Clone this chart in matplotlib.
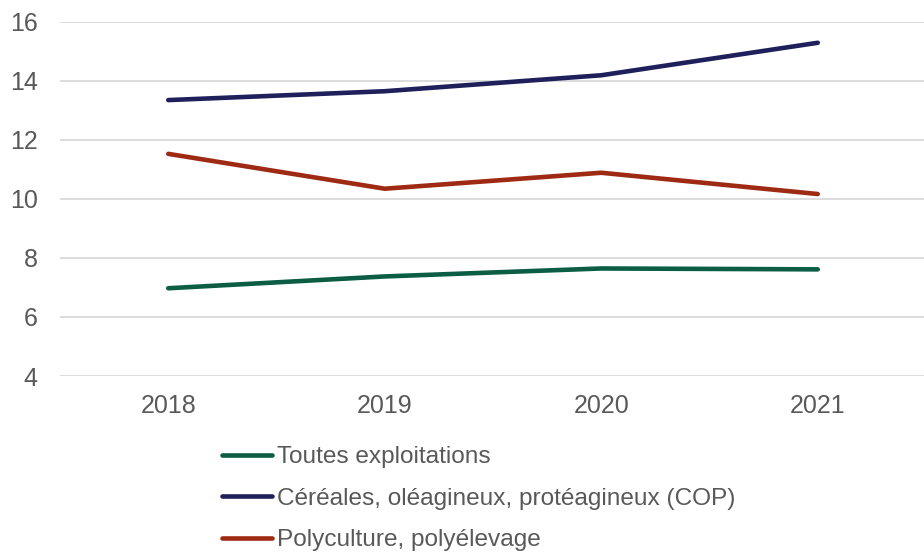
import matplotlib
matplotlib.use("Agg")
import matplotlib.pyplot as plt

years = ["2018", "2019", "2020", "2021"]
toutes = [6.97, 7.37, 7.64, 7.61]
cop = [13.34, 13.64, 14.18, 15.28]
poly = [11.52, 10.34, 10.88, 10.16]
labels = ["Toutes exploitations", "Céréales, oléagineux, protéagineux (COP)", "Polyculture, polyélevage"]
colors = ["#0B5D44", "#1F1F5B", "#9E2A14"]
yticks = [4, 6, 8, 10, 12, 14, 16]

plt.rcParams['font.family'] = ['Liberation Sans', 'DejaVu Sans']
fig = plt.figure(figsize=(9.24, 5.52), dpi=100)
ax = fig.add_axes([60/924, 1-376/552, 866/924, (376-21.5)/552])

x = list(range(len(years)))
handles = []
for vals, lab, col in zip([toutes, cop, poly], labels, colors):
    h, = ax.plot(x, vals, color=col, lw=3.3, solid_capstyle='round', label=lab, zorder=3)
    handles.append(h)

ax.set_xlim(-0.5, 3.5)
ax.set_ylim(4, 16)
ax.set_yticks(yticks)
ax.set_xticks(x)
ax.set_xticklabels(years)
ax.grid(axis='y', color='#D9D9D9', lw=1.3)
ax.set_axisbelow(True)
for s in ax.spines.values():
    s.set_visible(False)
ax.tick_params(length=0, labelsize=18, colors='#595959')
ax.tick_params(axis='x', pad=13)
ax.tick_params(axis='y', pad=16)

fig.legend(handles=handles, labels=labels, loc='upper left', bbox_to_anchor=(222/924, 1-446/552),
           frameon=False, borderpad=0, borderaxespad=0, handlelength=2.05, handletextpad=0.2,
           labelspacing=0.8, fontsize=17.6, labelcolor='#595959')

fig.savefig("out.png", dpi=100)
